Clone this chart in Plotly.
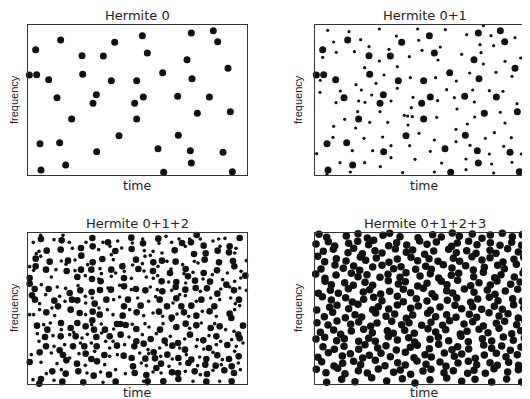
import plotly.graph_objects as go

# ---------------- data (time, frequency in arbitrary units) ----------------
# Hermite 0 atoms (large)
h0_time = [23, 98, 260, 343, 490, 556, 569, 162, 226, 358, 477, 4, 26, 164, 404, 600,
           62, 250, 326, 492, 205, 87, 346, 449, 544, 195, 320, 508, 607, 131, 326,
           273, 451, 36, 95, 206, 390, 487, 585, 113, 490, 39, 407, 613]
h0_freq = [376, 405, 398, 418, 426, 433, 400, 358, 357, 366, 346, 300, 301, 302, 307, 320,
           286, 283, 283, 289, 241, 232, 234, 236, 234, 215, 215, 185, 190, 168, 168,
           118, 119, 94, 97, 70, 79, 73, 68, 30, 36, 15, 8, 10]

# Hermite 1 atoms (small, added in panel 2)
h1_time = [38, 102, 193, 308, 391, 505, 455, 528, 600, 244, 137, 56, 311, 376, 495, 536,
           64, 118, 162, 222, 321, 283, 193, 23, 369, 440, 498, 505, 570, 617, 149, 247,
           207, 286, 362, 424, 464, 543, 591, 16, 123, 183, 247, 15, 76, 139, 170, 395,
           473, 523, 564, 63, 131, 150, 228, 294, 418, 368, 478, 606, 289, 426, 128, 195,
           268, 278, 292, 365, 479, 556, 640, 89, 164, 218, 279, 56, 122, 312, 423, 457,
           538, 570, 631, 54, 147, 203, 358, 423, 511, 589, 632, 5, 112, 173, 228, 284,
           346, 465, 523, 566, 619, 630, 75, 149, 228, 300, 380, 453, 530, 591, 196, 263,
           358, 536, 106, 36, 453]
h1_freq = [434, 430, 438, 438, 436, 448, 421, 418, 412, 417, 406, 399, 404, 384, 391, 388,
           368, 370, 385, 377, 374, 355, 342, 353, 345, 362, 367, 333, 341, 351, 322, 325,
           300, 292, 292, 282, 306, 308, 296, 284, 271, 275, 260, 248, 252, 255, 240, 256,
           255, 253, 251, 217, 222, 218, 222, 233, 232, 223, 219, 214, 202, 198, 190, 190,
           179, 177, 175, 173, 174, 188, 175, 167, 158, 158, 150, 146, 141, 125, 137, 153,
           127, 156, 148, 113, 110, 114, 105, 100, 110, 112, 130, 64, 73, 73, 88, 88,
           71, 89, 63, 86, 63, 84, 37, 37, 52, 47, 36, 48, 33, 38, 25, 7,
           9, 6, 9, 2, 16]

# Hermite 0+1+2: large atoms
h2_big_time = [39, 101, 193, 240, 310, 345, 391, 462, 489, 506, 527, 605, 635, 56, 98, 159,
               194, 262, 311, 440, 498, 533, 569, 603, 23, 65, 120, 160, 194, 223, 283, 324,
               376, 402, 443, 473, 530, 573, 615, 23, 54, 116, 159, 190, 250, 331, 375, 426,
               480, 527, 567, 619, 652, 5, 5, 148, 192, 218, 288, 401, 445, 501, 546, 595,
               20, 62, 125, 157, 191, 216, 249, 288, 324, 352, 403, 443, 472, 503, 537, 568,
               618, 12, 21, 79, 90, 132, 148, 200, 235, 288, 300, 338, 395, 417, 445, 460,
               490, 520, 559, 633, 55, 128, 155, 194, 215, 284, 326, 393, 431, 468, 505, 545,
               605, 610, 27, 58, 99, 128, 148, 173, 193, 198, 231, 267, 277, 293, 278, 325,
               396, 445, 473, 505, 548, 575, 631, 645, 51, 98, 143, 205, 245, 325, 368, 410,
               450, 486, 526, 565, 598, 635, 54, 95, 135, 169, 206, 267, 319, 347, 377, 433,
               471, 543, 35, 105, 173, 190, 229, 207, 287, 311, 352, 381, 418, 451, 490, 535,
               568, 603, 632, 5, 115, 147, 315, 399, 481, 532, 563, 611, 73, 113, 151, 197,
               243, 320, 355, 385, 432, 450, 500, 537, 589, 618, 39, 34, 103, 166, 263, 359,
               406, 451, 535, 611]
h2_big_freq = [435, 431, 438, 425, 439, 422, 436, 423, 425, 447, 415, 413, 438, 400, 403, 408,
               413, 399, 405, 401, 390, 392, 400, 395, 376, 367, 370, 385, 365, 375, 353, 373,
               365, 370, 367, 345, 373, 365, 369, 353, 343, 339, 343, 343, 343, 345, 339, 333,
               323, 333, 341, 353, 325, 318, 301, 321, 315, 308, 318, 308, 306, 310, 307, 298,
               285, 285, 273, 281, 276, 282, 283, 293, 285, 281, 278, 291, 283, 288, 287, 271,
               281, 266, 253, 250, 233, 253, 251, 241, 253, 233, 253, 235, 253, 233, 257, 233,
               235, 253, 233, 253, 215, 223, 213, 217, 208, 205, 215, 217, 199, 215, 205, 218,
               211, 198, 175, 163, 183, 168, 183, 173, 191, 163, 163, 180, 180, 177, 148, 165,
               163, 171, 181, 176, 168, 173, 148, 175, 141, 143, 143, 141, 143, 128, 135, 130,
               123, 148, 131, 143, 117, 137, 113, 101, 113, 113, 113, 115, 113, 121, 95, 115,
               103, 108, 95, 87, 91, 75, 87, 68, 85, 78, 76, 77, 88, 78, 73, 75,
               86, 75, 83, 66, 71, 61, 53, 61, 63, 58, 55, 53, 38, 31, 38, 25,
               28, 33, 27, 48, 35, 33, 38, 30, 41, 33, 15, 1, 7, 5, 7, 8,
               8, 15, 7, 8]

# Hermite 0+1+2: small atoms
h2_small_time = [38, 78, 105, 124, 174, 225, 269, 313, 344, 393, 414, 431, 453, 485, 517, 555,
                 572, 591, 16, 33, 133, 212, 246, 281, 349, 375, 402, 472, 576, 624, 620, 25,
                 38, 100, 114, 141, 179, 250, 256, 286, 314, 343, 351, 367, 390, 417, 464, 499,
                 510, 655, 5, 17, 84, 141, 216, 220, 263, 289, 348, 389, 429, 468, 495, 553,
                 598, 639, 70, 172, 212, 250, 310, 355, 376, 422, 473, 525, 584, 620, 638, 40,
                 88, 113, 150, 172, 240, 275, 310, 367, 388, 431, 455, 517, 578, 605, 635, 655,
                 53, 95, 35, 72, 111, 173, 193, 213, 257, 275, 329, 362, 383, 435, 472, 505,
                 548, 575, 608, 635, 622, 17, 35, 80, 173, 238, 255, 305, 347, 375, 404, 447,
                 482, 523, 565, 620, 5, 47, 67, 100, 137, 191, 220, 257, 313, 351, 363, 405,
                 430, 485, 520, 560, 593, 618, 28, 75, 125, 162, 178, 221, 255, 303, 343, 385,
                 427, 470, 508, 543, 578, 611, 645, 33, 78, 110, 157, 190, 233, 245, 290, 360,
                 395, 415, 455, 505, 527, 565, 625, 10, 70, 125, 153, 200, 245, 268, 335, 362,
                 398, 433, 475, 515, 555, 583, 620, 39, 87, 172, 230, 340, 355, 423, 456, 509,
                 580, 631, 55, 100, 177, 218, 263, 292, 375, 399, 472, 517, 555, 637, 15, 78,
                 101, 225, 347, 358, 495, 575]
h2_small_freq = [446, 433, 446, 425, 425, 425, 429, 423, 435, 422, 443, 425, 435, 435, 435, 429,
                 435, 437, 425, 398, 407, 403, 413, 408, 400, 398, 393, 413, 413, 407, 393, 391,
                 383, 369, 359, 372, 358, 388, 373, 358, 357, 361, 383, 386, 353, 368, 358, 368,
                 363, 370, 352, 341, 343, 340, 346, 331, 333, 338, 339, 325, 345, 331, 335, 328,
                 333, 338, 321, 325, 315, 323, 317, 321, 317, 306, 303, 315, 313, 308, 318, 298,
                 291, 287, 295, 263, 288, 296, 283, 291, 283, 281, 268, 278, 285, 291, 288, 281,
                 268, 263, 241, 228, 248, 243, 258, 228, 253, 261, 258, 248, 262, 243, 265, 248,
                 258, 253, 258, 235, 241, 208, 223, 205, 208, 223, 208, 223, 205, 213, 203, 210,
                 203, 218, 203, 223, 208, 178, 183, 163, 155, 178, 180, 165, 179, 181, 171, 181,
                 191, 167, 183, 181, 163, 158, 151, 145, 148, 138, 149, 153, 128, 141, 148, 151,
                 143, 135, 133, 145, 128, 133, 123, 128, 113, 118, 123, 123, 128, 108, 118, 103,
                 108, 118, 108, 113, 105, 118, 113, 88, 93, 78, 91, 98, 83, 88, 93, 91,
                 83, 75, 88, 81, 95, 73, 98, 65, 61, 56, 58, 63, 55, 53, 61, 55,
                 58, 63, 31, 43, 33, 36, 43, 31, 36, 33, 38, 28, 41, 43, 13, 11,
                 1, 5, 8, 0, 8, 8]

# Hermite 0+1+2+3: all atoms, listed band by band (top to bottom)
h3_time_rows = [
    [12, 35, 76, 94, 129, 157, 204, 224, 255, 293, 309, 353, 379, 412, 433, 472, 501, 526, 562, 592, 622],
    [3, 40, 59, 101, 128, 161, 176, 221, 245, 275, 314, 336, 364, 410, 427, 461, 486, 526, 555, 590, 620, 642],
    [25, 55, 99, 116, 142, 180, 201, 241, 274, 293, 329, 356, 401, 424, 455, 483, 525, 543, 578, 610, 638],
    [8, 29, 64, 93, 136, 152, 184, 222, 247, 288, 308, 342, 369, 415, 434, 471, 501, 525, 564, 597, 626],
    [18, 60, 85, 116, 134, 173, 201, 236, 258, 302, 332, 349, 385, 411, 452, 475, 508, 548, 568, 604, 629],
    [2, 30, 63, 109, 129, 156, 195, 219, 255, 273, 315, 346, 371, 409, 431, 476, 505, 539, 558, 598, 624],
    [30, 49, 89, 115, 150, 173, 220, 250, 271, 308, 336, 379, 396, 428, 467, 492, 526, 546, 587, 615, 640],
    [10, 46, 70, 100, 145, 164, 197, 224, 265, 287, 325, 351, 395, 413, 448, 477, 517, 540, 571, 608, 634],
    [22, 49, 92, 112, 146, 176, 201, 247, 265, 304, 336, 360, 397, 425, 467, 488, 523, 549, 593, 622, 642],
    [5, 44, 66, 101, 129, 173, 190, 221, 247, 287, 310, 346, 375, 420, 440, 473, 500, 538, 562, 596, 626],
    [28, 53, 91, 120, 140, 182, 213, 239, 274, 293, 338, 362, 395, 423, 463, 485, 522, 552, 579, 610, 636],
    [6, 39, 66, 107, 131, 167, 186, 230, 260, 282, 320, 348, 383, 404, 447, 473, 505, 544, 569, 605, 629],
    [16, 56, 77, 109, 146, 172, 217, 235, 269, 298, 339, 362, 392, 436, 456, 492, 519, 552, 590, 617, 640],
    [3, 29, 65, 88, 131, 161, 181, 220, 247, 281, 299, 345, 370, 401, 438, 460, 502, 530, 565, 595, 628],
    [24, 58, 87, 131, 150, 188, 213, 244, 286, 307, 343, 371, 411, 428, 461, 506, 530, 560, 586, 618, 642],
    [9, 40, 82, 106, 143, 163, 198, 226, 271, 297, 330, 349, 388, 418, 440, 481, 508, 544, 573, 607, 635],
    [20, 57, 83, 116, 137, 181, 210, 248, 271, 306, 333, 375, 393, 429, 460, 485, 525, 547, 581, 611, 638],
    [4, 33, 68, 90, 130, 157, 190, 236, 256, 287, 324, 348, 387, 415, 458, 477, 511, 537, 578, 610, 635],
    [35, 80, 120, 170, 215, 262, 300, 345, 395, 440, 480, 530, 575, 620],
]
h3_freq_rows = [
    [449, 440, 454, 444, 451, 438, 446, 452, 442, 455, 439, 448, 441, 453, 443, 450, 437, 447, 452, 442, 448],
    [420, 427, 414, 422, 428, 418, 431, 415, 424, 417, 429, 419, 426, 413, 423, 428, 418, 424, 416, 425, 416, 430],
    [398, 404, 394, 407, 391, 400, 393, 405, 395, 402, 389, 399, 404, 394, 400, 392, 401, 392, 406, 396, 403],
    [383, 367, 376, 369, 381, 371, 378, 365, 375, 380, 370, 376, 368, 377, 368, 382, 372, 379, 366, 374, 380],
    [345, 357, 347, 354, 341, 351, 356, 346, 352, 344, 353, 344, 358, 348, 355, 342, 350, 356, 346, 359, 343],
    [330, 317, 327, 332, 322, 328, 320, 329, 320, 334, 324, 331, 318, 326, 332, 322, 335, 319, 328, 321, 333],
    [308, 298, 304, 296, 305, 296, 310, 300, 307, 294, 302, 308, 298, 311, 295, 304, 297, 309, 299, 306, 293],
    [272, 281, 272, 286, 276, 283, 270, 278, 284, 274, 287, 271, 280, 273, 285, 275, 282, 269, 279, 284, 274],
    [262, 252, 259, 246, 254, 260, 250, 263, 247, 256, 249, 261, 251, 258, 245, 255, 260, 250, 256, 248, 257],
    [222, 230, 236, 226, 239, 223, 232, 225, 237, 227, 234, 221, 231, 236, 226, 232, 224, 233, 224, 238, 228],
    [202, 215, 199, 208, 201, 213, 203, 210, 197, 207, 212, 202, 208, 200, 209, 200, 214, 204, 211, 198, 206],
    [184, 177, 189, 179, 186, 173, 183, 188, 178, 184, 176, 185, 176, 190, 180, 187, 174, 182, 188, 178, 191],
    [155, 162, 149, 159, 164, 154, 160, 152, 161, 152, 166, 156, 163, 150, 158, 164, 154, 167, 151, 160, 153],
    [135, 140, 130, 136, 128, 137, 128, 142, 132, 139, 126, 134, 140, 130, 143, 127, 136, 129, 141, 131, 138],
    [112, 104, 113, 104, 118, 108, 115, 102, 110, 116, 106, 119, 103, 112, 105, 117, 107, 114, 101, 111, 116],
    [80, 94, 84, 91, 78, 86, 92, 82, 95, 79, 88, 81, 93, 83, 90, 77, 87, 92, 82, 88, 80],
    [67, 54, 62, 68, 58, 71, 55, 64, 57, 69, 59, 66, 53, 63, 68, 58, 64, 56, 65, 56, 70],
    [44, 34, 47, 31, 40, 33, 45, 35, 42, 29, 39, 44, 34, 40, 32, 41, 32, 46, 36, 43, 30],
    [5, 14, 7, 19, 9, 16, 3, 13, 18, 8, 14, 6, 15, 6],
]
h3_time = [t for row in h3_time_rows for t in row]
h3_freq = [f for row in h3_freq_rows for f in row]

panel_titles = ["Hermite 0", "Hermite 0+1", "Hermite 0+1+2", "Hermite 0+1+2+3"]
x_label = "time"
y_label = "frequency"

# ---------------- figure ----------------
WIN_W, WIN_H = 530, 399
OFF = 8                      # page body margin of the browser
W, H = WIN_W - OFF, WIN_H - OFF
INK = "#111111"
fig = go.Figure()

def dots(x, y, size, ax):
    fig.add_trace(go.Scatter(
        x=x, y=y, mode="markers", xaxis="x" + ax, yaxis="y" + ax,
        marker=dict(size=size, color=INK, line=dict(width=0)),
        cliponaxis=False, hoverinfo="skip", showlegend=False))

dots(h0_time, h0_freq, 7, "")
dots(h0_time, h0_freq, 7, "2")
dots(h1_time, h1_freq, 3.2, "2")
dots(h2_big_time, h2_big_freq, 6.6, "3")
dots(h2_small_time, h2_small_freq, 3.6, "3")
dots(h3_time, h3_freq, 7.5, "4")

# panel frames in window pixels
colL = (28, 247)
colR = (315, 530)
rowT = (25, 175)
rowB = (233, 384)

def fx(p):
    return (p - OFF) / W

def fy(p):
    return 1 - (p - OFF) / H

axis_common = dict(showgrid=False, zeroline=False, showticklabels=False,
                   ticks="", showline=True, linecolor="#333333", linewidth=1)

full_t = 657  # full time extent of a panel
layout_axes = {}
specs = [("", colL, rowT, 450, True), ("2", colR, rowT, 450, False),
         ("3", colL, rowB, 453, True), ("4", colR, rowB, 453, False)]
for ax, col, row, fmax, mir in specs:
    frac = (col[1] - col[0]) / 219.0
    layout_axes["xaxis" + ax] = dict(axis_common, domain=[fx(col[0]), min(1, fx(col[1]))],
                                     range=[0, full_t * frac], mirror=True,
                                     anchor="y" + ax)
    layout_axes["yaxis" + ax] = dict(axis_common, domain=[fy(row[1]), fy(row[0])],
                                     range=[0, fmax], mirror=mir,
                                     anchor="x" + ax)

fig.update_layout(width=W, height=H, margin=dict(l=0, r=0, t=0, b=0),
                  paper_bgcolor="white", plot_bgcolor="white", **layout_axes)

title_font = dict(family="DejaVu Sans", size=13, color="#222222")
label_font = dict(family="DejaVu Sans", size=12.5, color="#222222")
ylab_font = dict(family="Liberation Sans", size=11, color="#222222")

ann = []
centers = [(137.5, 15.5, 185, 14, 100), (424.5, 15.5, 185, 298, 100),
           (137.5, 224, 392, 14, 308), (424.5, 224, 392, 298, 308)]
for title, (cx, ty, lx_y, fy_x, fy_y) in zip(panel_titles, centers):
    ann.append(dict(text=title, x=fx(cx), y=fy(ty), xref="paper", yref="paper",
                    showarrow=False, xanchor="center", yanchor="middle", font=title_font))
    ann.append(dict(text=x_label, x=fx(cx), y=fy(lx_y), xref="paper", yref="paper",
                    showarrow=False, xanchor="center", yanchor="middle", font=label_font))
    ann.append(dict(text=y_label, x=fx(fy_x), y=fy(fy_y), xref="paper", yref="paper",
                    showarrow=False, xanchor="center", yanchor="middle", textangle=-90,
                    font=ylab_font))
fig.update_layout(annotations=ann)

fig.write_html("out.html")
